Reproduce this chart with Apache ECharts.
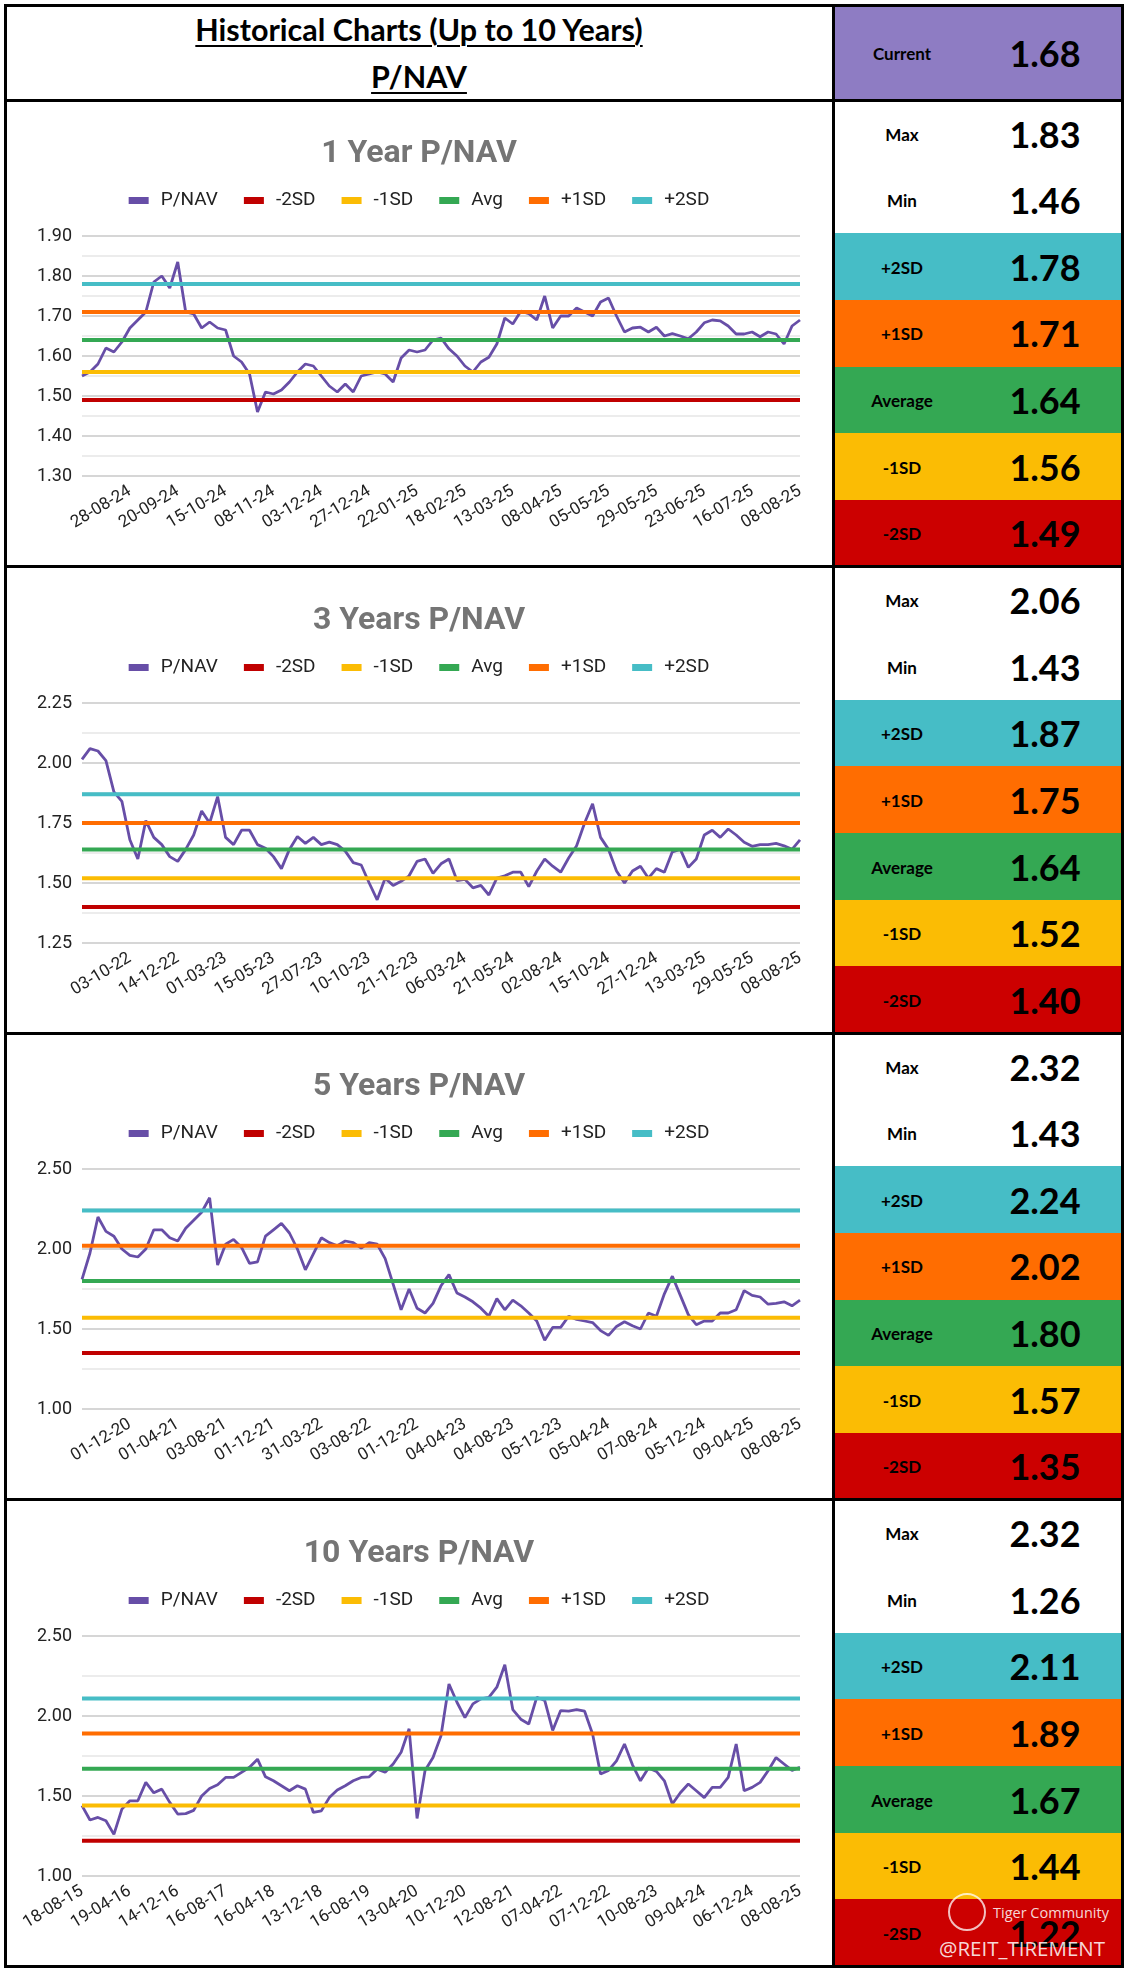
<!DOCTYPE html>
<html lang="en">
<head>
<meta charset="utf-8">
<title>Historical Charts P/NAV</title>
<script src="https://cdn.jsdelivr.net/npm/echarts@6/dist/echarts.min.js"></script>
<style>
  body { margin: 0; background: #fff; }
  #page { position: relative; width: 1130px; height: 1976px; font-family: Lato, 'Open Sans', sans-serif; overflow: hidden; }
  .chart { position: absolute; left: 6px; width: 826px; height: 464px; }
  .line { position: absolute; background: #000; z-index: 5; }
  .cell { position: absolute; left: 834px; width: 287px; }
  .cell span { position: absolute; top: 50%; transform: translateY(-50%); text-align: center; font-weight: bold; color: #000; }
  .cell .lab { left: 0; width: 136px; font-size: 17px; }
  .cell .val { left: 151px; width: 120px; font-size: 36px; }
  .head { position: absolute; left: 6px; width: 826px; text-align: center; font-weight: bold; font-size: 30.5px; text-decoration: underline; text-decoration-thickness: 2px; text-underline-offset: 4px; }
  .wm { position: absolute; color: rgba(255,255,255,0.85); font-family: 'Open Sans', sans-serif; z-index: 6; white-space: nowrap; }
</style>
</head>
<body>
<div id="page"></div>
<script>
// x labels (right aligned on the ticks)
var ticks1Y = ['28-08-24','20-09-24','15-10-24','08-11-24','03-12-24','27-12-24','22-01-25','18-02-25','13-03-25','08-04-25','05-05-25','29-05-25','23-06-25','16-07-25','08-08-25'];
var ticks3Y = ['03-10-22','14-12-22','01-03-23','15-05-23','27-07-23','10-10-23','21-12-23','06-03-24','21-05-24','02-08-24','15-10-24','27-12-24','13-03-25','29-05-25','08-08-25'];
var ticks5Y = ['01-12-20','01-04-21','03-08-21','01-12-21','31-03-22','03-08-22','01-12-22','04-04-23','04-08-23','05-12-23','05-04-24','07-08-24','05-12-24','09-04-25','08-08-25'];
var ticks10Y = ['18-08-15','19-04-16','14-12-16','16-08-17','16-04-18','13-12-18','16-08-19','13-04-20','10-12-20','12-08-21','07-04-22','07-12-22','10-08-23','09-04-24','06-12-24','08-08-25'];

// P/NAV readings
var pnav1Y = [1.55,1.56,1.58,1.62,1.61,1.635,1.67,1.69,1.71,1.785,
  1.80,1.77,1.835,1.71,1.705,1.67,1.685,1.67,1.665,1.60,
  1.585,1.555,1.46,1.51,1.505,1.515,1.535,1.56,1.58,1.575,
  1.55,1.525,1.51,1.53,1.51,1.55,1.555,1.56,1.555,1.535,
  1.595,1.615,1.61,1.615,1.64,1.645,1.618,1.60,1.575,1.56,
  1.585,1.597,1.63,1.695,1.68,1.712,1.706,1.69,1.75,1.67,
  1.70,1.70,1.72,1.71,1.70,1.735,1.745,1.70,1.66,1.67,
  1.672,1.66,1.672,1.65,1.656,1.65,1.643,1.66,1.683,1.69,
  1.688,1.675,1.655,1.655,1.66,1.648,1.66,1.655,1.63,1.675,
  1.69];
var pnav3Y = [2.015,2.06,2.05,2.01,1.88,1.84,1.68,1.60,1.76,1.69,
  1.66,1.61,1.59,1.64,1.70,1.80,1.75,1.86,1.69,1.66,
  1.72,1.72,1.66,1.645,1.61,1.56,1.64,1.694,1.665,1.69,
  1.66,1.67,1.66,1.633,1.585,1.575,1.50,1.43,1.52,1.49,
  1.507,1.53,1.59,1.60,1.54,1.58,1.60,1.51,1.515,1.48,
  1.49,1.45,1.52,1.53,1.545,1.545,1.485,1.549,1.60,1.57,
  1.545,1.604,1.655,1.75,1.83,1.69,1.64,1.55,1.50,1.55,
  1.57,1.52,1.56,1.545,1.63,1.64,1.565,1.60,1.70,1.72,
  1.69,1.725,1.70,1.67,1.653,1.66,1.66,1.665,1.655,1.64,
  1.68];
var pnav5Y = [1.81,1.975,2.20,2.11,2.08,2.00,1.96,1.95,2.00,2.12,
  2.12,2.07,2.05,2.13,2.18,2.23,2.32,1.90,2.03,2.06,
  2.01,1.91,1.92,2.08,2.12,2.16,2.10,2.00,1.87,1.97,
  2.07,2.04,2.02,2.05,2.04,2.006,2.04,2.03,1.94,1.78,
  1.62,1.75,1.63,1.60,1.66,1.77,1.84,1.725,1.70,1.67,
  1.63,1.58,1.69,1.62,1.68,1.645,1.60,1.55,1.43,1.51,
  1.51,1.58,1.56,1.55,1.54,1.49,1.46,1.516,1.545,1.52,
  1.50,1.60,1.58,1.72,1.83,1.71,1.59,1.527,1.55,1.55,
  1.60,1.60,1.62,1.74,1.71,1.70,1.655,1.66,1.67,1.645,
  1.68];
var pnav10Y = [1.44,1.35,1.366,1.345,1.26,1.418,1.47,1.47,1.585,1.52,
  1.543,1.46,1.387,1.39,1.41,1.50,1.547,1.57,1.616,1.616,
  1.648,1.68,1.73,1.62,1.595,1.564,1.533,1.564,1.543,1.397,
  1.407,1.49,1.537,1.564,1.595,1.616,1.62,1.668,1.648,1.70,
  1.773,1.92,1.36,1.66,1.74,1.877,2.20,2.086,1.99,2.076,
  2.107,2.117,2.18,2.32,2.04,1.98,1.95,2.117,2.097,1.91,
  2.034,2.03,2.04,2.03,1.888,1.637,1.66,1.72,1.825,1.695,
  1.595,1.675,1.654,1.595,1.45,1.52,1.575,1.533,1.49,1.554,
  1.554,1.616,1.825,1.533,1.554,1.585,1.658,1.74,1.70,1.66,
  1.68];

// right column: Max, Min, +2SD, +1SD, Average, -1SD, -2SD
var statLabels = ['Max','Min','+2SD','+1SD','Average','-1SD','-2SD'];
var stats1Y = [1.83,1.46,1.78,1.71,1.64,1.56,1.49];
var stats3Y = [2.06,1.43,1.87,1.75,1.64,1.52,1.40];
var stats5Y = [2.32,1.43,2.24,2.02,1.80,1.57,1.35];
var stats10Y = [2.32,1.26,2.11,1.89,1.67,1.44,1.22];
var current = 1.68;

var cellColors = ['#ffffff','#ffffff','#46bdc6','#ff6d01','#34a853','#fbbc04','#cc0000'];
var purple = '#674ea7';
var bandNames = ['-2SD','-1SD','Avg','+1SD','+2SD'];
var bandColors = ['#c00000','#fbbc04','#34a853','#ff6d01','#46bdc6'];

var sections = [
  {title: '1 Year P/NAV', ticks: ticks1Y, values: pnav1Y, stats: stats1Y, yMin: 1.3, yMax: 1.9, yStep: 0.1},
  {title: '3 Years P/NAV', ticks: ticks3Y, values: pnav3Y, stats: stats3Y, yMin: 1.25, yMax: 2.25, yStep: 0.25},
  {title: '5 Years P/NAV', ticks: ticks5Y, values: pnav5Y, stats: stats5Y, yMin: 1.0, yMax: 2.5, yStep: 0.5},
  {title: '10 Years P/NAV', ticks: ticks10Y, values: pnav10Y, stats: stats10Y, yMin: 1.0, yMax: 2.5, yStep: 0.5}
];

var page = document.getElementById('page');
var secTop = [100, 566.5, 1033, 1499.5];
var secH = 466.5;
var rowH = secH / 7;

function box(cls, l, t, w, h, bg) {
  var d = document.createElement('div');
  d.className = cls;
  d.style.left = l + 'px'; d.style.top = t + 'px';
  if (w != null) d.style.width = w + 'px';
  d.style.height = h + 'px';
  if (bg) d.style.background = bg;
  page.appendChild(d);
  return d;
}

function cell(top, h, bg, lab, val) {
  var c = box('cell', 834, top, null, h, bg);
  c.innerHTML = '<span class="lab">' + lab + '</span><span class="val">' + val + '</span>';
}

// header
var h1 = box('head', 6, 11, null, 38); h1.textContent = 'Historical Charts (Up to 10 Years)';
var h2 = box('head', 6, 58, null, 38); h2.textContent = 'P/NAV';
cell(5, 95, '#8e7cc3', 'Current', current.toFixed(2));

sections.forEach(function (s, si) {
  var top = secTop[si];
  s.stats.forEach(function (v, r) {
    cell(top + r * rowH, rowH + 0.5, cellColors[r], statLabels[r], v.toFixed(2));
  });
  var div = box('chart', 6, top + 2, null, 464);
  drawChart(div, s, 136 - 2);
});

function drawChart(el, s, gridTop) {
  var M = s.values.length - 1;
  var k = M / 15;
  var skip = 16 - s.ticks.length;
  // band values in legend order: -2SD, -1SD, Avg, +1SD, +2SD
  var bands = [s.stats[6], s.stats[5], s.stats[4], s.stats[3], s.stats[2]];
  var series = [{
    name: 'P/NAV', type: 'line', symbol: 'none', color: purple,
    lineStyle: {width: 2.8, color: purple},
    data: s.values.map(function (v, i) { return [i, v]; })
  }];
  bands.forEach(function (b, j) {
    series.push({
      name: bandNames[j], type: 'line', symbol: 'none', color: bandColors[j],
      lineStyle: {width: 4, color: bandColors[j]},
      data: [[0, b], [M, b]]
    });
  });
  var chart = echarts.init(el);
  chart.setOption({
    animation: false,
    textStyle: {fontFamily: 'Roboto'},
    title: {
      text: s.title, left: 'center', top: 31,
      textStyle: {fontFamily: 'Roboto', fontSize: 32, fontWeight: 'bold', color: '#757575'}
    },
    legend: {
      top: 84, left: 'center', icon: 'rect', itemWidth: 20, itemHeight: 7, itemGap: 26,
      textStyle: {fontFamily: 'Roboto', fontSize: 19, color: '#222', padding: [0, 0, 0, 7]},
      data: ['P/NAV'].concat(bandNames)
    },
    grid: {left: 76, right: 32, top: gridTop, height: 240},
    xAxis: {
      type: 'value', min: 0, max: M, interval: k,
      axisLine: {show: false}, axisTick: {show: false}, splitLine: {show: false},
      axisLabel: {
        rotate: 31, margin: 14, fontSize: 17, color: '#222', fontFamily: 'Roboto',
        formatter: function (v) {
          var idx = Math.round(v / k) - skip;
          return s.ticks[idx] || '';
        }
      }
    },
    yAxis: {
      type: 'value', min: s.yMin, max: s.yMax, interval: s.yStep,
      axisLine: {show: false}, axisTick: {show: false},
      axisLabel: {fontSize: 18, color: '#222', margin: 10, fontFamily: 'Roboto',
        formatter: function (v) { return v.toFixed(2); }},
      splitLine: {lineStyle: {color: '#c8c8c8', width: 1.5}},
      minorTick: {show: false, splitNumber: 2},
      minorSplitLine: {show: true, lineStyle: {color: '#e6e6e6', width: 1.5}}
    },
    series: series
  });
}

// table borders
box('line', 4, 4, 1120, 3);
box('line', 4, 1964.5, 1120, 3);
box('line', 4, 4, 3, 1963);
box('line', 1121, 4, 3, 1963);
box('line', 831.5, 4, 3, 1963);
secTop.forEach(function (t) { box('line', 4, t - 1.5, 1120, 3); });

// watermark
var ring = box('wm', 948, 1893, 38, 38);
ring.style.border = '2px solid rgba(255,255,255,0.75)';
ring.style.borderRadius = '50%';
ring.style.boxSizing = 'border-box';
var wm1 = box('wm', 993, 1903, null, 22); wm1.style.fontSize = '14.5px'; wm1.textContent = 'Tiger Community';
var wm2 = box('wm', 939, 1934, null, 30); wm2.style.fontSize = '20.5px'; wm2.textContent = '@REIT_TIREMENT';
</script>
</body>
</html>
